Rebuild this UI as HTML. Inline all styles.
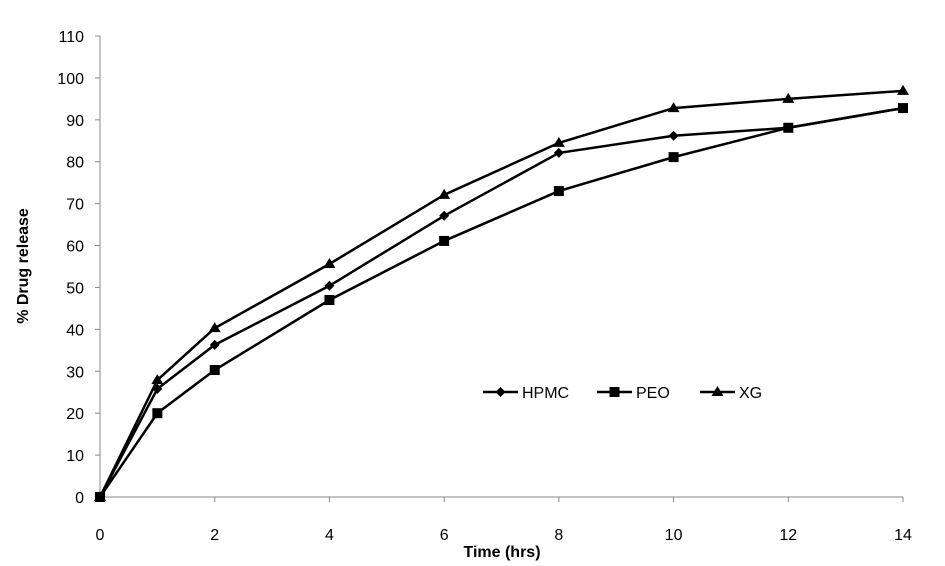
<!DOCTYPE html>
<html><head><meta charset="utf-8"><style>
body{margin:0;background:#fff;}
svg{display:block;font-family:"Liberation Sans",sans-serif;}
</style></head><body>
<svg id="chart" width="945" height="566"></svg>
<script>
const xValues=[0,1,2,4,6,8,10,12,14];
const hpmc=[0,25.8,36.3,50.4,67.1,82.1,86.2,88.1,92.8];
const peo=[0,20.0,30.3,47.0,61.1,73.0,81.1,88.1,92.8];
const xg=[0,27.9,40.3,55.6,72.1,84.5,92.8,95.0,96.9];
const xTicks=[0,2,4,6,8,10,12,14];
const yTicks=[0,10,20,30,40,50,60,70,80,90,100,110];
const seriesNames=["HPMC","PEO","XG"];

const NS="http://www.w3.org/2000/svg";
const svg=document.getElementById('chart');
const X=v=>100+v*(803/14);
const Y=v=>497-v*(461/110);
function mk(t,a,p){const e=document.createElementNS(NS,t);for(const k in a)e.setAttribute(k,a[k]);(p||svg).appendChild(e);return e;}

// axes
let ya=mk('line',{x1:100,y1:36,x2:100,y2:497,stroke:'#888','stroke-width':1});


let xa=mk('line',{x1:100,y1:497,x2:903,y2:497,stroke:'#888','stroke-width':1});


yTicks.forEach(v=>{
  mk('line',{x1:95,y1:Y(v),x2:100,y2:Y(v),stroke:'#888'});
  const t=mk('text',{x:84,y:Y(v)+6,'text-anchor':'end','font-size':16,fill:'#000'});
  t.textContent=v;
  
  
});
xTicks.forEach(v=>{
  mk('line',{x1:X(v),y1:497,x2:X(v),y2:502,stroke:'#888'});
  const t=mk('text',{x:X(v),y:540,'text-anchor':'middle','font-size':16,fill:'#000'});
  t.textContent=v;
  
  
});
let yt=mk('text',{x:0,y:0,transform:'translate(28,266) rotate(-90)','text-anchor':'middle','font-size':16,'font-weight':'bold'});
yt.textContent='% Drug release';


let xt=mk('text',{x:502,y:557,'text-anchor':'middle','font-size':16,'font-weight':'bold'});
xt.textContent='Time (hrs)';



function marker(kind,cx,cy,g){
  if(kind==='diamond') return mk('polygon',{points:`${cx},${cy-5} ${cx+5},${cy} ${cx},${cy+5} ${cx-5},${cy}`,fill:'#000'},g);
  if(kind==='square') return mk('rect',{x:cx-5,y:cy-5,width:10,height:10,fill:'#000'},g);
  return mk('polygon',{points:`${cx},${cy-6} ${cx+6},${cy+4} ${cx-6},${cy+4}`,fill:'#000'},g);
}
const all=[hpmc,peo,xg], kinds=['diamond','square','triangle'];
all.forEach((vals,i)=>{
  const g=mk('g',{});
  
  
  mk('polyline',{points:vals.map((v,j)=>X(xValues[j])+','+Y(v)).join(' '),fill:'none',stroke:'#000','stroke-width':2.5},g);
  vals.forEach((v,j)=>{
    const m=marker(kinds[i],X(xValues[j]),Y(v),g);
    
    
  });
});
// legend
const lx=[483,597,700];
seriesNames.forEach((n,i)=>{
  const g=mk('g',{});
  
  
  mk('line',{x1:lx[i],y1:392,x2:lx[i]+35,y2:392,stroke:'#000','stroke-width':2.5},g);
  marker(kinds[i],lx[i]+17.5,392,g);
  const t=mk('text',{x:lx[i]+39,y:398,'font-size':16},g);
  t.textContent=n;
});
</script>
</body></html>
